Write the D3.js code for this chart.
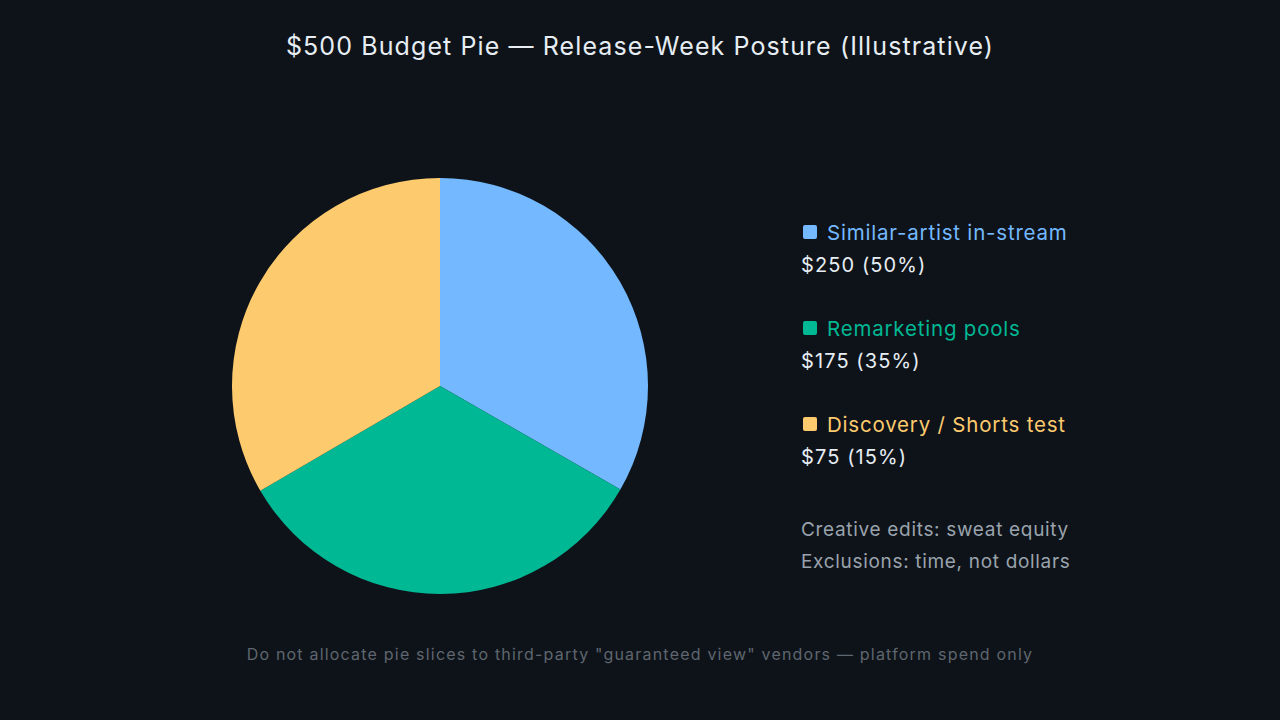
<!DOCTYPE html>
<html>
<head>
<meta charset="utf-8">
<script src="https://cdn.jsdelivr.net/npm/d3@7"></script>
<style>
  html, body { margin: 0; padding: 0; background: #0e1319; }
  svg { display: block; }
  text { font-family: Inter, "Noto Sans", sans-serif; }
</style>
</head>
<body>
<svg id="chart" width="1280" height="720"></svg>
<script>
// ---- data ----
const categories = ["Similar-artist in-stream", "Remarketing pools", "Discovery / Shorts test"];
const amounts = [250, 175, 75];
const percents = [50, 35, 15];
// slice shares as drawn in the reference picture (slices appear roughly equal)
const sliceShares = [33.3, 33.3, 33.4];
const colors = ["#74b9ff", "#00b894", "#fdcb6e"];
const notes = ["Creative edits: sweat equity", "Exclusions: time, not dollars"];
const title = "$500 Budget Pie \u2014 Release-Week Posture (Illustrative)";
const footer = "Do not allocate pie slices to third-party \"guaranteed view\" vendors \u2014 platform spend only";

// ---- layout ----
const svg = d3.select("#chart");
svg.append("rect").attr("width", 1280).attr("height", 720).attr("fill", "#0e1319");

svg.append("text")
  .attr("x", 640).attr("y", 55)
  .attr("text-anchor", "middle")
  .attr("fill", "#e6edf3")
  .attr("font-size", 25)
  .attr("letter-spacing", 1.1)
  .text(title);

const cx = 440, cy = 386, r = 208;
const pie = d3.pie().sort(null).value(d => d.share);
const arc = d3.arc().innerRadius(0).outerRadius(r);
const slices = pie(categories.map((c, i) => ({ name: c, share: sliceShares[i], color: colors[i] })));

svg.append("g").attr("transform", `translate(${cx},${cy})`)
  .selectAll("path").data(slices).join("path")
  .attr("d", arc)
  .attr("fill", d => d.data.color);

// ---- legend ----
const legend = svg.append("g").attr("transform", "translate(801,0)");
const rowY = d3.scalePoint().domain(categories).range([240, 432]);
categories.forEach((c, i) => {
  const y = rowY(c);
  legend.append("rect")
    .attr("x", 2).attr("y", y - 15).attr("width", 14).attr("height", 14)
    .attr("rx", 2).attr("fill", colors[i]);
  legend.append("text")
    .attr("x", 26).attr("y", y)
    .attr("fill", colors[i]).attr("font-size", 20.5)
    .attr("letter-spacing", 0.8)
    .text(c);
  legend.append("text")
    .attr("x", 0).attr("y", y + 32)
    .attr("fill", "#e6edf3").attr("font-size", 20)
    .attr("letter-spacing", 1.1)
    .text(`$${amounts[i]} (${percents[i]}%)`);
});

notes.forEach((n, i) => {
  legend.append("text")
    .attr("x", 0).attr("y", 536 + i * 32)
    .attr("fill", "#9aa3ad").attr("font-size", 19)
    .attr("letter-spacing", 0.68)
    .text(n);
});

svg.append("text")
  .attr("x", 640).attr("y", 660)
  .attr("text-anchor", "middle")
  .attr("fill", "#5f666f")
  .attr("font-size", 16)
  .attr("letter-spacing", 1.2)
  .text(footer);
</script>
</body>
</html>
